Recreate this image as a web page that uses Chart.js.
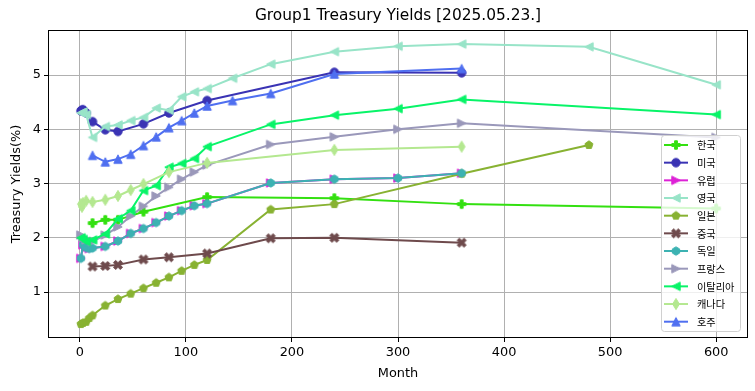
<!DOCTYPE html>
<html>
<head>
<meta charset="utf-8">
<script src="https://cdn.jsdelivr.net/npm/chart.js"></script>
<style>
  body { margin: 0; background: #fff; }
  canvas { display: block; }
</style>
</head>
<body>
<canvas id="yield-graph" width="755" height="391"></canvas>
<script>
// Yield curves, x = maturity in months, y = yield (%)

const krMonths = [12, 24, 36, 60, 120, 240, 360, 600];
const krYields = [2.27, 2.33, 2.33, 2.48, 2.75, 2.73, 2.62, 2.54];

const usMonths = [1, 2, 3, 4, 6, 12, 24, 36, 60, 84, 120, 240, 360];
const usYields = [4.34, 4.35, 4.36, 4.33, 4.30, 4.14, 3.99, 3.96, 4.10, 4.30, 4.53, 5.05, 5.04];

const euMonths = [1, 3, 6, 9, 12, 24, 36, 48, 60, 72, 84, 96, 108, 120, 180, 240, 300, 360];
const euYields = [1.62, 1.87, 1.82, 1.80, 1.81, 1.84, 1.94, 2.08, 2.17, 2.28, 2.40, 2.50, 2.59, 2.63, 3.01, 3.08, 3.10, 3.19];

const ukMonths = [1, 3, 6, 12, 24, 36, 48, 60, 72, 84, 96, 108, 120, 144, 180, 240, 300, 360, 480, 600];
const ukYields = [4.30, 4.32, 4.27, 3.85, 4.05, 4.08, 4.16, 4.22, 4.39, 4.35, 4.60, 4.69, 4.75, 4.94, 5.20, 5.43, 5.53, 5.57, 5.52, 4.82];

const jpMonths = [1, 3, 6, 9, 12, 24, 36, 48, 60, 72, 84, 96, 108, 120, 180, 240, 360, 480];
const jpYields = [0.41, 0.43, 0.45, 0.52, 0.57, 0.75, 0.87, 0.97, 1.07, 1.17, 1.27, 1.39, 1.50, 1.59, 2.52, 2.62, 3.18, 3.71];

const cnMonths = [12, 24, 36, 60, 84, 120, 180, 240, 360];
const cnYields = [1.47, 1.48, 1.50, 1.60, 1.64, 1.71, 1.99, 2.00, 1.91];

const deMonths = [1, 3, 6, 9, 12, 24, 36, 48, 60, 72, 84, 96, 108, 120, 180, 240, 300, 360];
const deYields = [1.62, 1.87, 1.82, 1.80, 1.81, 1.84, 1.94, 2.08, 2.17, 2.28, 2.40, 2.50, 2.59, 2.63, 3.01, 3.08, 3.10, 3.19];

const frMonths = [1, 3, 6, 12, 24, 36, 48, 60, 72, 84, 96, 108, 120, 180, 240, 300, 360, 600];
const frYields = [2.05, 2.00, 1.96, 1.93, 2.05, 2.20, 2.40, 2.58, 2.77, 2.93, 3.08, 3.21, 3.34, 3.72, 3.86, 4.00, 4.11, 3.85];

const itMonths = [1, 3, 6, 12, 24, 36, 48, 60, 72, 84, 96, 108, 120, 180, 240, 300, 360, 600];
const itYields = [2.00, 1.97, 1.93, 1.96, 2.07, 2.35, 2.50, 2.87, 2.96, 3.30, 3.37, 3.46, 3.68, 4.09, 4.26, 4.38, 4.55, 4.27];

const caMonths = [1, 2, 3, 6, 12, 24, 36, 48, 60, 84, 120, 240, 360];
const caYields = [2.62, 2.57, 2.64, 2.68, 2.66, 2.70, 2.77, 2.88, 2.99, 3.21, 3.38, 3.62, 3.68];

const auMonths = [12, 24, 36, 48, 60, 72, 84, 96, 108, 120, 144, 180, 240, 360];
const auYields = [3.52, 3.40, 3.45, 3.54, 3.70, 3.86, 4.03, 4.16, 4.30, 4.43, 4.53, 4.66, 5.02, 5.12];

const xTicks = [0, 100, 200, 300, 400, 500, 600];
const yTicks = [1, 2, 3, 4, 5];

// Marker images (matplotlib-like shapes)

function marker(shape, color) {
  const c = document.createElement('canvas');
  c.width = 14;
  c.height = 14;
  const g = c.getContext('2d');
  g.fillStyle = color;
  g.strokeStyle = color;
  g.lineWidth = 1;
  g.translate(7, 7);
  const r = 4.2;
  let pts = [];
  if (shape === 'circle') {
    g.beginPath();
    g.arc(0, 0, r, 0, Math.PI * 2);
    g.fill();
    g.stroke();
    return c;
  }
  if (shape === 'hex' || shape === 'pent') {
    const n = shape === 'hex' ? 6 : 5;
    for (let i = 0; i < n; i++) {
      const a = -Math.PI / 2 + i * 2 * Math.PI / n;
      pts.push([r * Math.cos(a), r * Math.sin(a)]);
    }
  } else if (shape === 'up') {
    pts = [[0, -r], [r, r], [-r, r]];
  } else if (shape === 'right') {
    pts = [[r, 0], [-r, r], [-r, -r]];
  } else if (shape === 'left') {
    pts = [[-r, 0], [r, -r], [r, r]];
  } else if (shape === 'thin') {
    pts = [[0, -5.6], [3.4, 0], [0, 5.6], [-3.4, 0]];
  } else if (shape === 'plus' || shape === 'x') {
    const a = r, b = r / 3;
    pts = [[-b, -a], [b, -a], [b, -b], [a, -b], [a, b], [b, b], [b, a], [-b, a], [-b, b], [-a, b], [-a, -b], [-b, -b]];
    if (shape === 'x') {
      const k = Math.SQRT1_2;
      pts = pts.map(p => [(p[0] - p[1]) * k * 1.15, (p[0] + p[1]) * k * 1.15]);
    }
  }
  g.beginPath();
  pts.forEach((p, i) => i ? g.lineTo(p[0], p[1]) : g.moveTo(p[0], p[1]));
  g.closePath();
  g.fill();
  g.stroke();
  return c;
}

function series(label, months, yields, color, shape) {
  const img = marker(shape, color);
  return {
    label: label,
    data: months.map((m, i) => ({ x: m, y: yields[i] })),
    borderColor: color,
    backgroundColor: color,
    borderWidth: 2,
    pointStyle: img,
    pointRadius: 4,
    pointHoverRadius: 4,
    tension: 0,
    marker: img
  };
}

const datasets = [
  series('한국', krMonths, krYields, '#33e010', 'plus'),
  series('미국', usMonths, usYields, '#3a33b4', 'circle'),
  series('유럽', euMonths, euYields, '#dd22d6', 'right'),
  series('영국', ukMonths, ukYields, '#98e4c8', 'left'),
  series('일본', jpMonths, jpYields, '#88b232', 'pent'),
  series('중국', cnMonths, cnYields, '#6e4a4c', 'x'),
  series('독일', deMonths, deYields, '#3cb2b2', 'hex'),
  series('프랑스', frMonths, frYields, '#9a98ba', 'right'),
  series('이탈리아', itMonths, itYields, '#08f468', 'left'),
  series('캐나다', caMonths, caYields, '#b4e890', 'thin'),
  series('호주', auMonths, auYields, '#4f6ff0', 'up')
];

// later series on top, like matplotlib
datasets.forEach((d, i) => { d.order = datasets.length - i; });

// Title, frame and legend

const decorPlugin = {
  id: 'decor',
  afterDatasetsDraw(chart) {
    const { ctx, chartArea: a } = chart;
    ctx.save();
    ctx.strokeStyle = '#000';
    ctx.lineWidth = 1;
    ctx.strokeRect(a.left + 0.5, a.top + 0.5, a.right - a.left - 1, a.bottom - a.top - 1);
    ctx.restore();
  },
  afterDraw(chart) {
    const { ctx, chartArea: a } = chart;
    ctx.save();
    ctx.fillStyle = '#000';
    ctx.font = '15.4px "DejaVu Sans"';
    ctx.textAlign = 'center';
    ctx.textBaseline = 'middle';
    ctx.fillText('Group1 Treasury Yields [2025.05.23.]', (a.left + a.right) / 2, 16);

    // legend box
    const lx = 661.5, ly = 135.5, lw = 79, lh = 196;
    ctx.beginPath();
    ctx.roundRect(lx, ly, lw, lh, 3);
    ctx.fillStyle = 'rgba(255,255,255,0.8)';
    ctx.fill();
    ctx.strokeStyle = '#d0d0d0';
    ctx.stroke();

    ctx.font = '10.2px "Noto Sans CJK KR"';
    ctx.textAlign = 'left';
    datasets.forEach((d, i) => {
      const y = 145 + i * 17.67;
      ctx.strokeStyle = d.borderColor;
      ctx.lineWidth = 2;
      ctx.beginPath();
      ctx.moveTo(664, y);
      ctx.lineTo(688, y);
      ctx.stroke();
      ctx.drawImage(d.marker, 676 - 7, y - 7);
      ctx.fillStyle = '#000';
      ctx.fillText(d.label, 697, y + 0.5);
    });
    ctx.restore();
  }
};

Chart.defaults.font.family = '"DejaVu Sans"';
Chart.defaults.color = '#000';

const yieldChart = new Chart(document.querySelector('#yield-graph'), {
  type: 'line',
  data: { datasets: datasets },
  options: {
    responsive: false,
    animation: false,
    devicePixelRatio: 1,
    layout: { padding: { top: 30, right: 7, left: 0, bottom: 0 } },
    scales: {
      x: {
        type: 'linear',
        min: -30,
        max: 630,
        afterBuildTicks: s => { s.ticks = xTicks.map(v => ({ value: v })); },
        afterFit: s => { s.height = 53; },
        grid: { color: '#b0b0b0', tickColor: '#000', tickLength: 4 },
        border: { display: false },
        ticks: { padding: 3, font: { size: 12.9 }, color: '#000', maxRotation: 0 },
        title: { display: true, text: 'Month', font: { size: 12.9 }, color: '#000', padding: { top: 0, bottom: 9.3 } }
      },
      y: {
        min: 0.152,
        max: 5.83,
        afterBuildTicks: s => { s.ticks = yTicks.map(v => ({ value: v })); },
        afterFit: s => { s.width = 48; },
        grid: { color: '#b0b0b0', tickColor: '#000', tickLength: 4 },
        border: { display: false },
        ticks: { padding: 3, font: { size: 12.9 }, color: '#000' },
        title: { display: true, text: 'Treasury Yields(%)', font: { size: 12.9 }, color: '#000', padding: { top: 9.3, bottom: 0 } }
      }
    },
    plugins: {
      legend: { display: false },
      tooltip: { enabled: false }
    }
  },
  plugins: [decorPlugin]
});
</script>
</body>
</html>
